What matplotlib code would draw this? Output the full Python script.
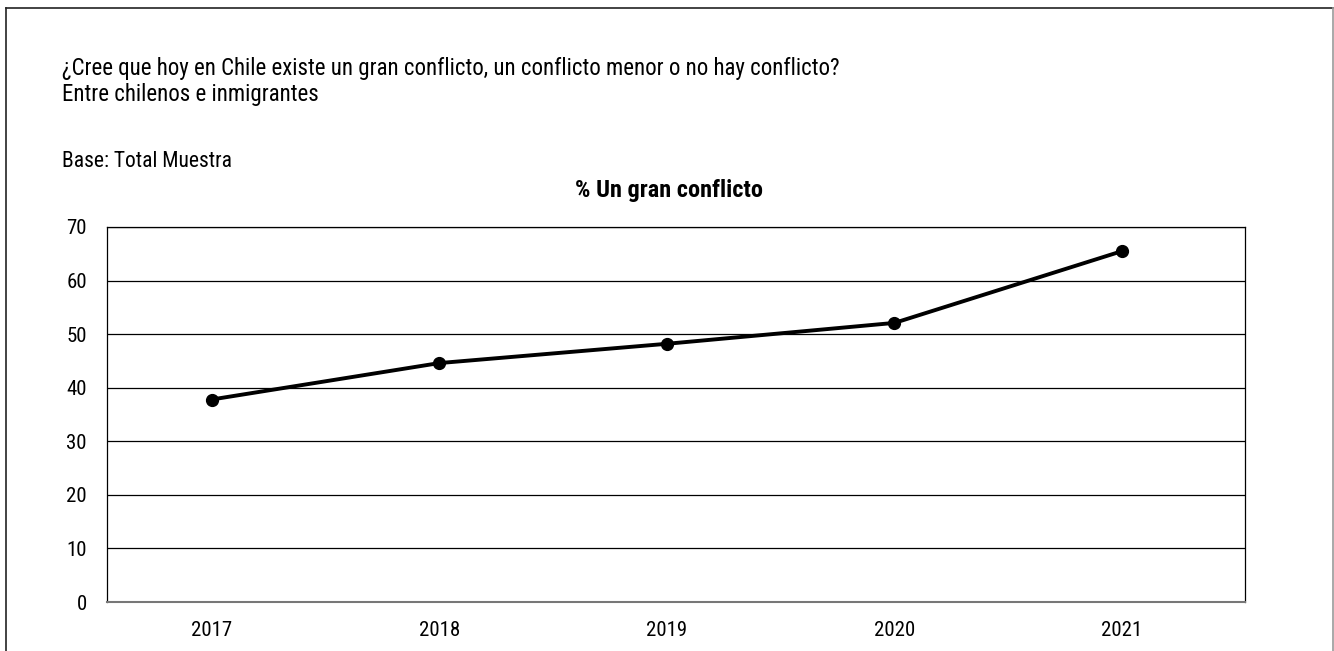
import matplotlib
matplotlib.use("Agg")
import matplotlib.pyplot as plt
from matplotlib.lines import Line2D

years = ["2017", "2018", "2019", "2020", "2021"]
values = [37.8, 44.6, 48.2, 52.1, 65.5]
yticks = [0, 10, 20, 30, 40, 50, 60, 70]

title_lines = ["¿Cree que hoy en Chile existe un gran conflicto, un conflicto menor o no hay conflicto?",
               "Entre chilenos e inmigrantes"]
base_text = "Base: Total Muestra"
chart_title = "% Un gran conflicto"

plt.rcParams['font.family'] = ["Roboto Condensed", "DejaVu Sans"]

W, H = 1334, 651
fig = plt.figure(figsize=(W / 100, H / 100), dpi=100)

# outer frame
fig.add_artist(Line2D([6 / W, 6 / W], [0, 1 - 8 / H], transform=fig.transFigure, color="#222222", lw=1.2))
fig.add_artist(Line2D([6 / W, 1332.5 / W], [1 - 8 / H, 1 - 8 / H], transform=fig.transFigure, color="#222222", lw=1.2))
fig.add_artist(Line2D([1332.5 / W, 1332.5 / W], [0, 1 - 8 / H], transform=fig.transFigure, color="#999999", lw=1.2))

ax = fig.add_axes([107 / W, 1 - 602 / H, (1245 - 107) / W, (602 - 227) / H])
x = list(range(len(years)))
ax.plot(x, values, color="black", lw=2.8, marker="o", markersize=8.5, zorder=3)
ax.set_xlim(-0.46, len(years) - 0.46)
ax.set_ylim(0, 70)
ax.set_yticks(yticks)
ax.set_xticks(x)
ax.set_xticklabels(years)
ax.tick_params(length=0, labelsize=15)
ax.tick_params(axis="x", pad=13.5)
ax.tick_params(axis="y", pad=14.5)
ax.grid(axis="y", color="black", lw=0.9)
ax.set_axisbelow(True)
for s in ["left", "right", "top"]:
    ax.spines[s].set_color("black")
    ax.spines[s].set_linewidth(0.9)
ax.spines["bottom"].set_color("#777777")
ax.spines["bottom"].set_linewidth(1.5)

fig.text(62 / W, 1 - 75 / H, title_lines[0], fontsize=16.5, va="baseline", ha="left")
fig.text(62 / W, 1 - 101.5 / H, title_lines[1], fontsize=16.5, va="baseline", ha="left")
fig.text(62 / W, 1 - 166.5 / H, base_text, fontsize=15.5, va="baseline", ha="left")
fig.text(669 / W, 1 - 196.5 / H, chart_title, fontsize=17.5, fontweight="bold", va="baseline", ha="center")

fig.savefig("out.png", dpi=100)
